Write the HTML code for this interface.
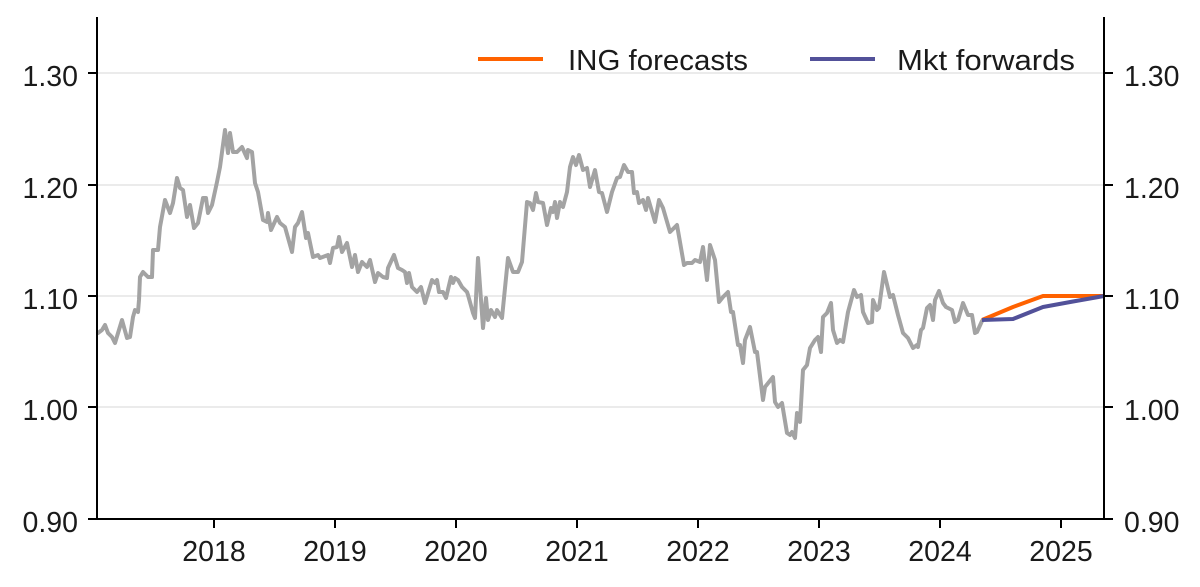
<!DOCTYPE html>
<html><head><meta charset="utf-8"><style>
html,body{margin:0;padding:0;background:#fff;}
svg{display:block;}
text{font-family:"Liberation Sans",sans-serif;fill:#1a1a1a;}
</style></head><body>
<svg width="1200" height="587" viewBox="0 0 1200 587" xmlns="http://www.w3.org/2000/svg">
<g stroke="#ebebeb" stroke-width="2">
<line x1="97" y1="73" x2="1104" y2="73"/>
<line x1="97" y1="185" x2="1104" y2="185"/>
<line x1="97" y1="296" x2="1104" y2="296"/>
<line x1="97" y1="407" x2="1104" y2="407"/>
</g>
<polyline fill="none" stroke="#a3a3a3" stroke-width="4" stroke-linejoin="round" stroke-linecap="round" points="
98,333 102,330 105,325 108,333 112,337 115,343 122,320 127,338 130,337 133,317 135,310 138,312 139,300 140,277 143,272 148,277 152,277 153,250 158,250 160,227 165,200 170,213 173,203 177,178 180,188 183,190 187,217 190,205 194,228 198,223 203,198 206,198 208,213 212,205 217,182 220,167 225,130 228,153 230,133 233,152 237,152 242,147 247,158 248,150 252,152 255,183 258,192 263,220 267,222 268,213 271,230 277,217 280,223 285,227 292,252 295,227 298,223 302,212 306,238 308,233 313,257 318,255 320,258 328,255 330,263 333,248 337,247 339,237 342,252 347,243 352,267 355,255 358,272 362,262 367,267 370,260 375,282 378,273 383,277 387,278 388,268 394,255 398,268 402,270 405,272 407,283 409,273 412,287 417,292 421,287 425,303 432,280 435,283 437,280 439,292 443,292 446,298 451,277 453,283 455,278 458,280 462,287 467,292 468,295 473,313 475,318 478,258 483,328 486,298 488,320 491,310 495,317 497,310 502,318 508,258 513,272 518,272 522,262 527,202 530,203 533,210 536,193 538,202 543,203 547,225 551,208 553,212 555,202 557,218 560,202 563,207 567,192 570,167 573,157 576,165 579,155 583,170 587,168 590,187 595,170 599,192 602,193 607,212 612,192 617,178 620,177 624,165 628,172 632,172 634,193 637,192 639,203 643,200 646,210 648,198 655,222 659,200 663,208 670,232 677,225 684,265 687,263 692,263 695,260 700,262 703,247 707,280 710,245 715,260 719,302 723,297 728,292 731,312 733,312 738,345 740,345 743,363 745,340 750,327 755,352 757,352 763,400 765,387 773,377 775,402 778,407 782,403 787,433 790,435 792,432 795,438 797,413 800,422 803,370 807,365 810,348 815,340 818,337 821,352 823,317 827,313 831,303 833,330 837,343 840,340 843,342 848,312 854,290 857,297 861,295 863,312 868,323 872,322 873,300 877,310 879,308 884,272 890,297 893,295 898,315 903,333 908,338 913,348 917,345 918,347 921,330 923,328 927,308 930,305 933,320 935,300 939,291 943,303 946,307 948,308 952,310 955,322 958,320 961,310 963,303 968,315 972,315 975,333 977,332 982,321"/>
<polyline fill="none" stroke="#ff6200" stroke-width="4" stroke-linejoin="round" points="982,320 1013,307 1043,296 1104,296"/>
<polyline fill="none" stroke="#525199" stroke-width="4" stroke-linejoin="round" points="982,320 1013,319 1043,307 1073,301.5 1104,296"/>
<g stroke="#000" stroke-width="2" fill="none">
<line x1="97" y1="17" x2="97" y2="520"/>
<line x1="1104" y1="17" x2="1104" y2="520"/>
<line x1="96" y1="519" x2="1105" y2="519"/>
<line x1="88" y1="73" x2="97" y2="73"/>
<line x1="88" y1="185" x2="97" y2="185"/>
<line x1="88" y1="296" x2="97" y2="296"/>
<line x1="88" y1="407" x2="97" y2="407"/>
<line x1="88" y1="519" x2="97" y2="519"/>
<line x1="1104" y1="73" x2="1113" y2="73"/>
<line x1="1104" y1="185" x2="1113" y2="185"/>
<line x1="1104" y1="296" x2="1113" y2="296"/>
<line x1="1104" y1="407" x2="1113" y2="407"/>
<line x1="1104" y1="519" x2="1113" y2="519"/>
<line x1="214" y1="519" x2="214" y2="528"/>
<line x1="335" y1="519" x2="335" y2="528"/>
<line x1="456" y1="519" x2="456" y2="528"/>
<line x1="577" y1="519" x2="577" y2="528"/>
<line x1="698" y1="519" x2="698" y2="528"/>
<line x1="819" y1="519" x2="819" y2="528"/>
<line x1="940" y1="519" x2="940" y2="528"/>
<line x1="1061" y1="519" x2="1061" y2="528"/>
</g>
<g font-size="28.5" text-anchor="end">
<text x="78" y="86">1.30</text>
<text x="78" y="198">1.20</text>
<text x="78" y="309">1.10</text>
<text x="78" y="420">1.00</text>
<text x="78" y="532">0.90</text>
</g>
<g font-size="28.5" text-anchor="start">
<text x="1124" y="86">1.30</text>
<text x="1124" y="198">1.20</text>
<text x="1124" y="309">1.10</text>
<text x="1124" y="420">1.00</text>
<text x="1124" y="532">0.90</text>
</g>
<g font-size="28.5" text-anchor="middle">
<text x="214" y="561">2018</text>
<text x="335" y="561">2019</text>
<text x="456" y="561">2020</text>
<text x="577" y="561">2021</text>
<text x="698" y="561">2022</text>
<text x="819" y="561">2023</text>
<text x="940" y="561">2024</text>
<text x="1061" y="561">2025</text>
</g>
<line x1="478" y1="59" x2="543" y2="59" stroke="#ff6200" stroke-width="4"/>
<line x1="810" y1="59" x2="875" y2="59" stroke="#525199" stroke-width="4"/>
<text x="568" y="70" font-size="28.5" textLength="180" lengthAdjust="spacingAndGlyphs">ING forecasts</text>
<text x="897" y="70" font-size="28.5" textLength="178" lengthAdjust="spacingAndGlyphs">Mkt forwards</text>
</svg>
</body></html>
